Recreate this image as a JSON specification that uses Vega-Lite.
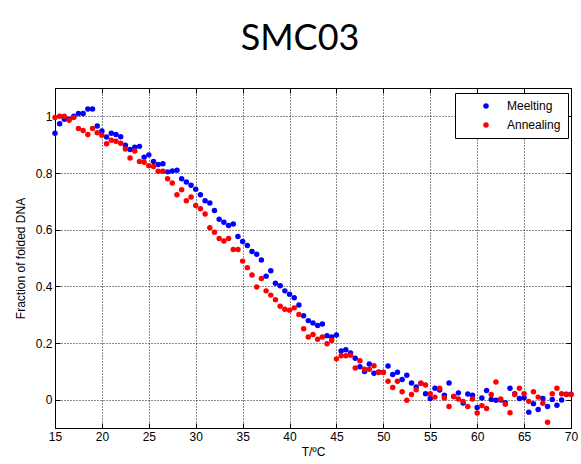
{
  "$schema": "https://vega.github.io/schema/vega-lite/v6.json",
  "width": 516,
  "height": 340,
  "autosize": "none",
  "padding": {"left": 55, "top": 88, "right": 10, "bottom": 36},
  "background": "white",
  "title": {"text": "SMC03", "fontSize": 36, "font": "Lato", "fontWeight": "normal", "color": "black", "anchor": "middle", "offset": 30, "dx": -13},
  "config": {
    "view": {"stroke": "black", "strokeWidth": 1},
    "axis": {"labelFont": "Liberation Sans", "labelFontSize": 12, "labelColor": "black", "titleFont": "Liberation Sans", "titleFontSize": 12, "titleFontWeight": "normal", "titleColor": "black", "domainColor": "black", "tickColor": "black", "gridColor": "black", "gridDash": [1, 2], "gridOpacity": 0.9, "gridWidth": 1},
    "legend": {"labelFont": "Liberation Sans", "labelFontSize": 12, "labelColor": "black"}
  },
  "data": {"values": [
{"T":15,"s":"Meelting","f":0.94},{"T":15.5,"s":"Meelting","f":0.974},{"T":16,"s":"Meelting","f":0.99},{"T":16.5,"s":"Meelting","f":0.99},{"T":17,"s":"Meelting","f":1.0},{"T":17.5,"s":"Meelting","f":1.01},{"T":18,"s":"Meelting","f":1.01},{"T":18.5,"s":"Meelting","f":1.026},{"T":19,"s":"Meelting","f":1.026},{"T":19.5,"s":"Meelting","f":0.966},
{"T":20,"s":"Meelting","f":0.948},{"T":20.5,"s":"Meelting","f":0.927},{"T":21,"s":"Meelting","f":0.94},{"T":21.5,"s":"Meelting","f":0.936},{"T":22,"s":"Meelting","f":0.928},{"T":22.5,"s":"Meelting","f":0.898},{"T":23,"s":"Meelting","f":0.883},{"T":23.5,"s":"Meelting","f":0.891},{"T":24,"s":"Meelting","f":0.894},{"T":24.5,"s":"Meelting","f":0.856},
{"T":25,"s":"Meelting","f":0.864},{"T":25.5,"s":"Meelting","f":0.841},{"T":26,"s":"Meelting","f":0.83},{"T":26.5,"s":"Meelting","f":0.833},{"T":27,"s":"Meelting","f":0.804},{"T":27.5,"s":"Meelting","f":0.807},{"T":28,"s":"Meelting","f":0.81},{"T":28.5,"s":"Meelting","f":0.78},{"T":29,"s":"Meelting","f":0.768},{"T":29.5,"s":"Meelting","f":0.757},
{"T":30,"s":"Meelting","f":0.743},{"T":30.5,"s":"Meelting","f":0.723},{"T":31,"s":"Meelting","f":0.702},{"T":31.5,"s":"Meelting","f":0.694},{"T":32,"s":"Meelting","f":0.668},{"T":32.5,"s":"Meelting","f":0.637},{"T":33,"s":"Meelting","f":0.626},{"T":33.5,"s":"Meelting","f":0.615},{"T":34,"s":"Meelting","f":0.62},{"T":34.5,"s":"Meelting","f":0.576},
{"T":35,"s":"Meelting","f":0.558},{"T":35.5,"s":"Meelting","f":0.544},{"T":36,"s":"Meelting","f":0.523},{"T":36.5,"s":"Meelting","f":0.513},{"T":37,"s":"Meelting","f":0.493},{"T":37.5,"s":"Meelting","f":0.436},{"T":38,"s":"Meelting","f":0.455},{"T":38.5,"s":"Meelting","f":0.411},{"T":39,"s":"Meelting","f":0.402},{"T":39.5,"s":"Meelting","f":0.384},
{"T":40,"s":"Meelting","f":0.372},{"T":40.5,"s":"Meelting","f":0.36},{"T":41,"s":"Meelting","f":0.334},{"T":41.5,"s":"Meelting","f":0.296},{"T":42,"s":"Meelting","f":0.279},{"T":42.5,"s":"Meelting","f":0.271},{"T":43,"s":"Meelting","f":0.262},{"T":43.5,"s":"Meelting","f":0.267},{"T":44,"s":"Meelting","f":0.226},{"T":44.5,"s":"Meelting","f":0.221},
{"T":45,"s":"Meelting","f":0.228},{"T":45.5,"s":"Meelting","f":0.172},{"T":46,"s":"Meelting","f":0.176},{"T":46.5,"s":"Meelting","f":0.165},{"T":47,"s":"Meelting","f":0.146},{"T":47.5,"s":"Meelting","f":0.116},{"T":48,"s":"Meelting","f":0.099},{"T":48.5,"s":"Meelting","f":0.126},{"T":49,"s":"Meelting","f":0.093},{"T":49.5,"s":"Meelting","f":0.098},
{"T":50,"s":"Meelting","f":0.097},{"T":50.5,"s":"Meelting","f":0.119},{"T":51,"s":"Meelting","f":0.089},{"T":51.5,"s":"Meelting","f":0.097},{"T":52,"s":"Meelting","f":0.071},{"T":52.5,"s":"Meelting","f":0.086},{"T":53,"s":"Meelting","f":0.059},{"T":53.5,"s":"Meelting","f":0.045},{"T":54,"s":"Meelting","f":0.058},{"T":54.5,"s":"Meelting","f":0.021},
{"T":55,"s":"Meelting","f":0.004},{"T":55.5,"s":"Meelting","f":0.04},{"T":56,"s":"Meelting","f":0.034},{"T":56.5,"s":"Meelting","f":0.016},{"T":57,"s":"Meelting","f":0.059},{"T":57.5,"s":"Meelting","f":0.011},{"T":58,"s":"Meelting","f":0.024},{"T":58.5,"s":"Meelting","f":-0.012},{"T":59,"s":"Meelting","f":0.02},{"T":59.5,"s":"Meelting","f":0.016},
{"T":60,"s":"Meelting","f":-0.028},{"T":60.5,"s":"Meelting","f":0.006},{"T":61,"s":"Meelting","f":0.032},{"T":61.5,"s":"Meelting","f":0.001},{"T":62,"s":"Meelting","f":-0.002},{"T":62.5,"s":"Meelting","f":-0.001},{"T":63,"s":"Meelting","f":-0.011},{"T":63.5,"s":"Meelting","f":0.04},{"T":64,"s":"Meelting","f":0.021},{"T":64.5,"s":"Meelting","f":0.004},
{"T":65,"s":"Meelting","f":0.007},{"T":65.5,"s":"Meelting","f":-0.044},{"T":66,"s":"Meelting","f":-0.014},{"T":66.5,"s":"Meelting","f":-0.035},{"T":67,"s":"Meelting","f":0.004},{"T":67.5,"s":"Meelting","f":-0.024},{"T":68,"s":"Meelting","f":0.001},{"T":68.5,"s":"Meelting","f":-0.02},{"T":69,"s":"Meelting","f":-0.001},{"T":69.5,"s":"Meelting","f":0.019},{"T":70,"s":"Meelting","f":0.019},
{"T":15,"s":"Annealing","f":0.996},{"T":15.5,"s":"Annealing","f":1.0},{"T":16,"s":"Annealing","f":1.0},{"T":16.5,"s":"Annealing","f":0.986},{"T":17,"s":"Annealing","f":0.996},{"T":17.5,"s":"Annealing","f":0.957},{"T":18,"s":"Annealing","f":0.95},{"T":18.5,"s":"Annealing","f":0.936},{"T":19,"s":"Annealing","f":0.957},{"T":19.5,"s":"Annealing","f":0.942},
{"T":20,"s":"Annealing","f":0.933},{"T":20.5,"s":"Annealing","f":0.903},{"T":21,"s":"Annealing","f":0.916},{"T":21.5,"s":"Annealing","f":0.912},{"T":22,"s":"Annealing","f":0.905},{"T":22.5,"s":"Annealing","f":0.885},{"T":23,"s":"Annealing","f":0.853},{"T":23.5,"s":"Annealing","f":0.878},{"T":24,"s":"Annealing","f":0.841},{"T":24.5,"s":"Annealing","f":0.838},
{"T":25,"s":"Annealing","f":0.826},{"T":25.5,"s":"Annealing","f":0.823},{"T":26,"s":"Annealing","f":0.806},{"T":26.5,"s":"Annealing","f":0.806},{"T":27,"s":"Annealing","f":0.78},{"T":27.5,"s":"Annealing","f":0.765},{"T":28,"s":"Annealing","f":0.723},{"T":28.5,"s":"Annealing","f":0.741},{"T":29,"s":"Annealing","f":0.702},{"T":29.5,"s":"Annealing","f":0.715},
{"T":30,"s":"Annealing","f":0.685},{"T":30.5,"s":"Annealing","f":0.674},{"T":31,"s":"Annealing","f":0.655},{"T":31.5,"s":"Annealing","f":0.607},{"T":32,"s":"Annealing","f":0.591},{"T":32.5,"s":"Annealing","f":0.569},{"T":33,"s":"Annealing","f":0.56},{"T":33.5,"s":"Annealing","f":0.569},{"T":34,"s":"Annealing","f":0.53},{"T":34.5,"s":"Annealing","f":0.53},
{"T":35,"s":"Annealing","f":0.489},{"T":35.5,"s":"Annealing","f":0.466},{"T":36,"s":"Annealing","f":0.44},{"T":36.5,"s":"Annealing","f":0.398},{"T":37,"s":"Annealing","f":0.428},{"T":37.5,"s":"Annealing","f":0.384},{"T":38,"s":"Annealing","f":0.369},{"T":38.5,"s":"Annealing","f":0.353},{"T":39,"s":"Annealing","f":0.33},{"T":39.5,"s":"Annealing","f":0.319},
{"T":40,"s":"Annealing","f":0.316},{"T":40.5,"s":"Annealing","f":0.324},{"T":41,"s":"Annealing","f":0.301},{"T":41.5,"s":"Annealing","f":0.25},{"T":42,"s":"Annealing","f":0.221},{"T":42.5,"s":"Annealing","f":0.23},{"T":43,"s":"Annealing","f":0.213},{"T":43.5,"s":"Annealing","f":0.221},{"T":44,"s":"Annealing","f":0.197},{"T":44.5,"s":"Annealing","f":0.209},
{"T":45,"s":"Annealing","f":0.144},{"T":45.5,"s":"Annealing","f":0.155},{"T":46,"s":"Annealing","f":0.155},{"T":46.5,"s":"Annealing","f":0.157},{"T":47,"s":"Annealing","f":0.112},{"T":47.5,"s":"Annealing","f":0.137},{"T":48,"s":"Annealing","f":0.107},{"T":48.5,"s":"Annealing","f":0.107},{"T":49,"s":"Annealing","f":0.12},{"T":49.5,"s":"Annealing","f":0.096},
{"T":50,"s":"Annealing","f":0.096},{"T":50.5,"s":"Annealing","f":0.065},{"T":51,"s":"Annealing","f":0.043},{"T":51.5,"s":"Annealing","f":0.065},{"T":52,"s":"Annealing","f":0.028},{"T":52.5,"s":"Annealing","f":-0.002},{"T":53,"s":"Annealing","f":0.018},{"T":53.5,"s":"Annealing","f":0.035},{"T":54,"s":"Annealing","f":0.058},{"T":54.5,"s":"Annealing","f":0.052},
{"T":55,"s":"Annealing","f":0.021},{"T":55.5,"s":"Annealing","f":0.009},{"T":56,"s":"Annealing","f":0.04},{"T":56.5,"s":"Annealing","f":0.006},{"T":57,"s":"Annealing","f":-0.024},{"T":57.5,"s":"Annealing","f":0.011},{"T":58,"s":"Annealing","f":0.002},{"T":58.5,"s":"Annealing","f":-0.006},{"T":59,"s":"Annealing","f":-0.024},{"T":59.5,"s":"Annealing","f":0.002},
{"T":60,"s":"Annealing","f":-0.047},{"T":60.5,"s":"Annealing","f":-0.021},{"T":61,"s":"Annealing","f":-0.031},{"T":61.5,"s":"Annealing","f":0.018},{"T":62,"s":"Annealing","f":0.062},{"T":62.5,"s":"Annealing","f":0.002},{"T":63,"s":"Annealing","f":-0.016},{"T":63.5,"s":"Annealing","f":-0.046},{"T":64,"s":"Annealing","f":0.018},{"T":64.5,"s":"Annealing","f":0.04},
{"T":65,"s":"Annealing","f":0.021},{"T":65.5,"s":"Annealing","f":-0.006},{"T":66,"s":"Annealing","f":0.028},{"T":66.5,"s":"Annealing","f":0.009},{"T":67,"s":"Annealing","f":-0.013},{"T":67.5,"s":"Annealing","f":-0.08},{"T":68,"s":"Annealing","f":0.021},{"T":68.5,"s":"Annealing","f":0.04},{"T":69,"s":"Annealing","f":0.021},{"T":69.5,"s":"Annealing","f":0.018},{"T":70,"s":"Annealing","f":0.018}
  ]},
  "layer": [
    {
      "mark": {"type": "point", "filled": true, "opacity": 1, "size": 30, "shape": "circle"},
      "encoding": {
        "x": {"field": "T", "type": "quantitative", "scale": {"domain": [15, 70], "nice": false, "zero": false},
              "axis": {"title": "T/ºC", "values": [15,20,25,30,35,40,45,50,55,60,65,70], "grid": true, "domain": false, "tickSize": -5, "labelPadding": 8, "titlePadding": 4, "labelFlush": false}},
        "y": {"field": "f", "type": "quantitative", "scale": {"domain": [-0.1, 1.1], "nice": false, "zero": false},
              "axis": {"title": "Fraction of folded DNA", "values": [0, 0.2, 0.4, 0.6, 0.8, 1], "labelExpr": "datum.value == 0 ? '0' : datum.value == 1 ? '1' : format(datum.value, '.1f')", "grid": true, "domain": false, "tickSize": -5, "labelPadding": 8, "titlePadding": 8, "labelFlush": false}},
        "color": {"field": "s", "type": "nominal", "scale": {"domain": ["Meelting", "Annealing"], "range": ["#0000ff", "#ff0000"]},
                  "legend": {"title": null, "orient": "none", "legendX": 400, "legendY": 5, "fillColor": "white", "strokeColor": "black", "padding": 7, "symbolOffset": 18, "labelOffset": 15, "rowPadding": 7, "symbolSize": 30, "symbolType": "circle", "symbolStrokeWidth": 0}}
      }
    },
    {
      "mark": {"type": "point", "opacity": 0},
      "encoding": {
        "x": {"field": "T", "type": "quantitative", "axis": {"orient": "top", "title": null, "labels": false, "values": [15,20,25,30,35,40,45,50,55,60,65,70], "grid": false, "domain": false, "tickSize": -5}},
        "y": {"field": "f", "type": "quantitative", "axis": {"orient": "right", "title": null, "labels": false, "values": [0, 0.2, 0.4, 0.6, 0.8, 1], "grid": false, "domain": false, "tickSize": -5}}
      }
    }
  ],
  "resolve": {"axis": {"x": "independent", "y": "independent"}}
}
